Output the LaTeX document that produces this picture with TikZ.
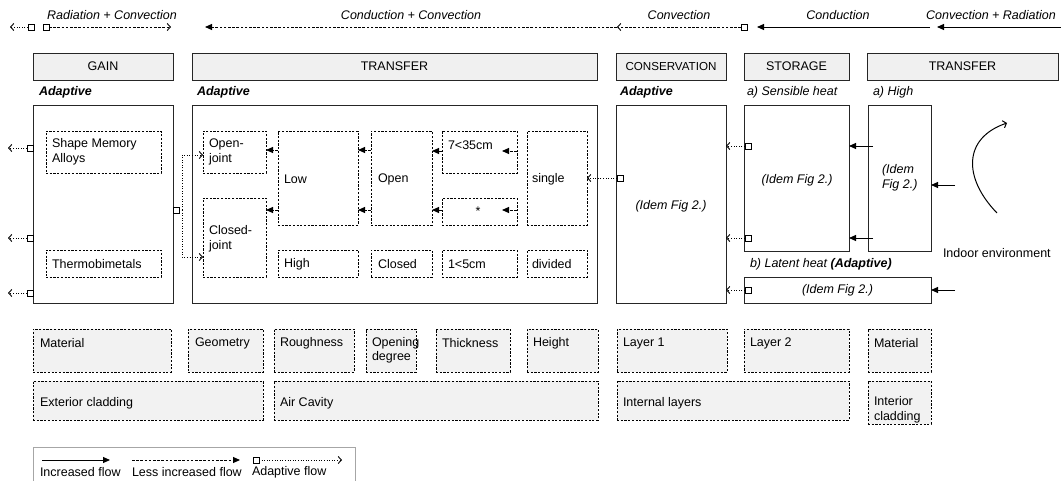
\documentclass[tikz,border=0pt]{standalone}
\usepackage{fontspec}
\setmainfont{Liberation Sans}
\usetikzlibrary{arrows.meta}
\newcommand\fs{\fontsize{12.5}{14.5}\selectfont}
\newcommand\bx[6]{\pgfmathsetmacro\bxw{#5-#3}\pgfmathsetmacro\bxh{#6-#4}%
  \node[#1, minimum width=\bxw pt, minimum height=\bxh pt, anchor=north west, inner sep=0pt, outer sep=0pt] (#2) at (#3,#4) {};}
\begin{document}
\begin{tikzpicture}[x=1pt,y=-1pt,
  txt/.style={inner sep=0pt, outer sep=0pt, font=\fs, text=black},
  itx/.style={txt, font=\fs\itshape},
  bix/.style={txt, font=\fs\bfseries\itshape},
  lt/.style={txt, anchor=west, align=left},
  hdr/.style={draw=black!85, fill=black!6, line width=1pt},
  mainbox/.style={draw=black!85, fill=white, line width=1pt},
  dbox/.style={draw=black, line width=0.85pt, dash pattern=on 2.2pt off 1.5pt},
  gbox/.style={dbox, fill=black!5},
  inc/.style={draw=black, line width=1pt, -{Triangle[length=7pt,width=6pt]}},
  less/.style={inc, dash pattern=on 2.6pt off 1.6pt},
  lessopen/.style={draw=black, line width=0.9pt, dash pattern=on 2.6pt off 1.6pt, -{Straight Barb[length=3.2pt,width=7pt]}},
  adapt/.style={draw=black, line width=0.9pt, dash pattern=on 1pt off 1.6pt, -{Straight Barb[length=3.2pt,width=7pt]}},
  adaptline/.style={draw=black, line width=0.9pt, dash pattern=on 1pt off 1.6pt},
  sq/.style={draw=black, fill=white, minimum size=6pt, inner sep=0pt, outer sep=0pt, line width=0.9pt}
]
\useasboundingbox (0,0) rectangle (1061,480);

% ---------- top flow row ----------
\node[itx] (tl1) at (112,15) {Radiation + Convection};
\node[itx] (tl2) at (411,15) {Conduction + Convection};
\node[itx] (tl3) at (679,15) {Convection};
\node[itx] (tl4) at (838,15) {Conduction};
\node[itx] (tl5) at (991,15) {Convection + Radiation};
\node[sq] (s0) at (31,27) {};
\node[sq] (s1) at (46,27) {};
\coordinate (e0) at (10,27);
\coordinate (e1) at (171,27);
\draw[adapt] (s0.west) -- (e0);
\draw[lessopen] (s1.east) -- (e1);
\coordinate (c617) at (617,27);
\coordinate (c205) at (205,27);
\draw[less] (c617) -- (c205);
\node[sq] (s2) at (744,27) {};
\draw[lessopen] (s2.west) -- (c617);
\coordinate (c930) at (930,27);
\coordinate (c757) at (757,27);
\draw[inc] (c930) -- (c757);
\coordinate (c1061) at (1062,27);
\coordinate (c937) at (937,27);
\draw[inc] (c1061) -- (c937);

% ---------- headers ----------
\bx{hdr}{hG}{33}{53}{173}{80}
\bx{hdr}{hT}{192}{53}{597}{80}
\bx{hdr}{hC}{616}{53}{726}{80}
\bx{hdr}{hS}{744}{53}{849}{80}
\bx{hdr}{hT2}{867}{53}{1058}{80}
\node[txt] (hGt) at (hG) {GAIN};
\node[txt] (hTt) at (hT) {TRANSFER};
\node[txt, font=\fontsize{11.6}{14}\selectfont] (hCt) at (hC) {CONSERVATION};
\node[txt] (hSt) at (hS) {STORAGE};
\node[txt] (hT2t) at (hT2) {TRANSFER};

\node[bix, anchor=west] (ad1) at (39,92) {Adaptive};
\node[bix, anchor=west] (ad2) at (197,92) {Adaptive};
\node[bix, anchor=west] (ad3) at (620,92) {Adaptive};
\node[itx, anchor=west] (sens) at (747,92) {a) Sensible heat};
\node[itx, anchor=west] (hig) at (873,92) {a) High};

% ---------- main boxes ----------
\bx{mainbox}{mG}{33}{105}{173}{303}
\bx{mainbox}{mT}{192}{105}{597}{303}
\bx{mainbox}{mC}{616}{105}{726}{303}
\bx{mainbox}{mS}{744}{105}{849}{251}
\bx{mainbox}{mT2}{868}{105}{931}{251}
\bx{mainbox}{mL}{744}{277}{931}{303}
\node[itx, anchor=west] (latl) at (750,264) {b) Latent heat \textbf{(Adaptive)}};
\node[itx] (idC) at (671,206) {(Idem Fig 2.)};
\node[itx] (idS) at (797,180) {(Idem Fig 2.)};
\node[itx, anchor=west, align=left] (idT) at (882,178) {(Idem\\Fig 2.)};
\node[itx] (idL) at (mL) {(Idem Fig 2.)};

% ---------- GAIN inner ----------
\bx{dbox}{sma}{46}{131}{161}{173}
\bx{dbox}{thermo}{46}{250}{161}{277}
\node[lt] (smat) at (52,152) {Shape Memory\\Alloys};
\node[lt] (thermot) at (52,264) {Thermobimetals};

% ---------- TRANSFER inner ----------
\bx{dbox}{oj}{203}{131}{266}{173}
\bx{dbox}{cj}{203}{198}{266}{277}
\bx{dbox}{low}{278}{131}{358}{225}
\bx{dbox}{high}{278}{250}{358}{277}
\bx{dbox}{open}{371}{131}{432}{225}
\bx{dbox}{closed}{371}{250}{432}{277}
\bx{dbox}{t7}{442}{131}{517}{173}
\bx{dbox}{star}{442}{198}{517}{225}
\bx{dbox}{t1}{442}{250}{517}{277}
\bx{dbox}{single}{527}{131}{587}{225}
\bx{dbox}{divided}{527}{250}{587}{277}
\node[lt] (ojt) at (209,152) {Open-\\joint};
\node[lt] (cjt) at (209,239) {Closed-\\joint};
\node[lt] (lowt) at (284,179) {Low};
\node[lt] (hight) at (284,264) {High};
\node[lt] (opent) at (378,179) {Open};
\node[lt] (closedt) at (378,264) {Closed};
\node[lt] (t7t) at (448,145) {7<35cm};
\node[txt] (start) at (478,211) {*};
\node[lt] (t1t) at (448,264) {1<5cm};
\node[lt] (singlet) at (532,179) {single};
\node[lt] (dividedt) at (532,264) {divided};

\draw[less] ([yshift=-19pt]low.north west) -- ([yshift=-19pt]oj.north east);
\draw[less] ([yshift=-79pt]low.north west) -- ([yshift=-12pt]cj.north east);
\draw[less] ([yshift=-19pt]open.north west) -- ([yshift=-19pt]low.north east);
\draw[less] ([yshift=-79pt]open.north west) -- ([yshift=-79pt]low.north east);
\draw[less] ([yshift=-20pt]t7.north west) -- ([yshift=-20pt]open.north east);
\draw[less] ([yshift=-12pt]star.north west) -- ([yshift=-79pt]open.north east);
\draw[less] ([yshift=-20pt]t7.north east) -- ++(-15,0);
\draw[less] ([yshift=-12pt]star.north east) -- ++(-15,0);

% ---------- adaptive squares ----------
\node[sq] (g1) at (30,148) {};
\node[sq] (g2) at (30,238) {};
\node[sq] (g3) at (30,293) {};
\draw[adapt] (g1.west) -- ++(-19,0);
\draw[adapt] (g2.west) -- ++(-19,0);
\draw[adapt] (g3.west) -- ++(-19,0);
\node[sq] (gr) at (176,210) {};
\coordinate (br0) at (182,210);
\coordinate (brT) at (182,155);
\coordinate (brB) at (182,257);
\coordinate (ojIn) at (203,155);
\coordinate (cjIn) at (203,257);
\draw[adaptline] (gr.east) -- (br0);
\draw[adapt] (br0) -- (brT) -- (ojIn);
\draw[adapt] (br0) -- (brB) -- (cjIn);
\node[sq] (sc) at (620,178) {};
\draw[adapt] (sc.west) -- (single.east);
\node[sq] (ss1) at (748,146) {};
\node[sq] (ss2) at (748,238) {};
\node[sq] (ss3) at (748,290) {};
\draw[adapt] (ss1.west) -- (mC.east |- ss1.west);
\draw[adapt] (ss2.west) -- (mC.east |- ss2.west);
\draw[adapt] (ss3.west) -- (mC.east |- ss3.west);

% ---------- solid arrows right ----------
\coordinate (r1) at (873,146);
\coordinate (r2) at (873,238);
\coordinate (r3) at (955,185);
\coordinate (r4) at (955,290);
\draw[inc] (r1) -- (mS.east |- r1);
\draw[inc] (r2) -- (mS.east |- r2);
\draw[inc] (r3) -- (mT2.east |- r3);
\draw[inc] (r4) -- (mL.east |- r4);
\coordinate (cv0) at (997,213);
\coordinate (cv1) at (1007,123);
\draw[draw=black, line width=1pt, -{Straight Barb[length=3.2pt,width=7.5pt]}] (cv0) .. controls (963,178) and (963,138) .. (cv1);
\node[txt, anchor=west] (indoor) at (943,253) {Indoor environment};

% ---------- bottom rows ----------
\bx{gbox}{b1}{33}{329}{171}{372}
\bx{gbox}{b2}{188}{329}{263}{372}
\bx{gbox}{b3}{274}{329}{354}{372}
\bx{gbox}{b4}{366}{329}{416}{372}
\bx{gbox}{b5}{436}{329}{510}{372}
\bx{gbox}{b6}{527}{329}{598}{372}
\bx{gbox}{b7}{617}{329}{727}{372}
\bx{gbox}{b8}{744}{329}{849}{372}
\bx{gbox}{b9}{868}{329}{931}{372}
\node[lt] (b1t) at (40,343) {Material};
\node[lt] (b2t) at (195,343) {Geometry};
\node[lt] (b3t) at (280,343) {Roughness};
\node[lt] (b4t) at (372,350.5) {Opening\\degree};
\node[lt] (b5t) at (442,343) {Thickness};
\node[lt] (b6t) at (533,343) {Height};
\node[lt] (b7t) at (623,343) {Layer 1};
\node[lt] (b8t) at (750,343) {Layer 2};
\node[lt] (b9t) at (874,343) {Material};
\bx{gbox}{c1}{33}{381}{263}{420}
\bx{gbox}{c2}{274}{381}{598}{420}
\bx{gbox}{c3}{617}{381}{849}{420}
\bx{gbox}{c4}{868}{381}{931}{424}
\node[lt] (c1t) at (40,403) {Exterior cladding};
\node[lt] (c2t) at (280,403) {Air Cavity};
\node[lt] (c3t) at (623,403) {Internal layers};
\node[lt] (c4t) at (874,410) {Interior\\cladding};

% ---------- legend ----------
\bx{draw=black!35, line width=0.8pt}{leg}{33}{447}{355}{495}
\coordinate (la0) at (42,460);
\coordinate (la1) at (110,460);
\coordinate (lb0) at (132,460);
\coordinate (lb1) at (240,460);
\draw[inc] (la0) -- (la1);
\draw[less] (lb0) -- (lb1);
\node[sq] (lsq) at (256,460) {};
\coordinate (lc1) at (342,460);
\draw[adapt] (lsq.east) -- (lc1);
\node[lt] (lat) at (40,472) {Increased flow};
\node[lt] (lbt) at (132,472) {Less increased flow};
\node[lt] (lct) at (252,472) {Adaptive flow};
\end{tikzpicture}
\end{document}
